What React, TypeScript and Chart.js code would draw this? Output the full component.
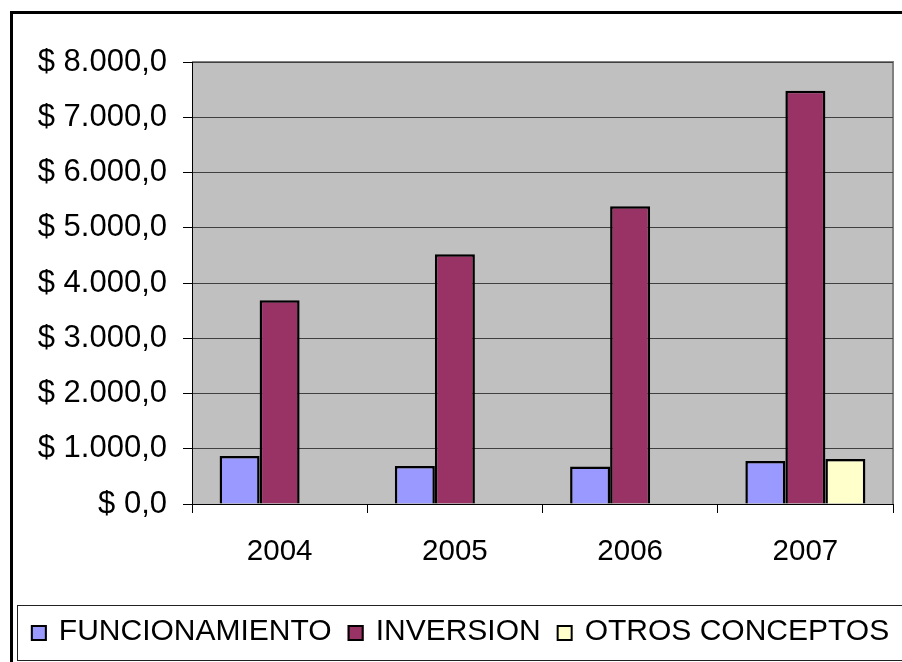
import React, { useEffect, useRef } from 'react';
import { Chart, registerables } from 'chart.js';

Chart.register(...registerables);

const years = ['2004', '2005', '2006', '2007'];
const funcionamiento = [870, 690, 680, 780];
const inversion = [3690, 4520, 5390, 7480];
const otrosConceptos: (number | null)[] = [null, null, null, 815];
const seriesNames = ['FUNCIONAMIENTO', 'INVERSION', 'OTROS CONCEPTOS'];
const seriesColors = ['#9999FF', '#993366', '#FFFFCC'];
const yTickLabels = [
  '$ 0,0',
  '$ 1.000,0',
  '$ 2.000,0',
  '$ 3.000,0',
  '$ 4.000,0',
  '$ 5.000,0',
  '$ 6.000,0',
  '$ 7.000,0',
  '$ 8.000,0',
];

const FONT = "'Liberation Sans', Arial, sans-serif";

const plotBg = {
  id: 'plotBg',
  beforeDraw(chart: any) {
    const { ctx, chartArea: a } = chart;
    ctx.save();
    ctx.fillStyle = '#C0C0C0';
    ctx.fillRect(a.left, a.top, a.right - a.left, a.bottom - a.top);
    ctx.strokeStyle = '#808080';
    ctx.lineWidth = 2;
    ctx.beginPath();
    ctx.moveTo(a.left, a.top);
    ctx.lineTo(a.right, a.top);
    ctx.lineTo(a.right, a.bottom);
    ctx.stroke();
    ctx.restore();
  },
};

// Legend drawn from the chart's own datasets, laid out like the original
const bottomLegend = {
  id: 'bottomLegend',
  afterDraw(chart: any) {
    const { ctx } = chart;
    const ds = chart.data.datasets;
    const box = 16;
    const gap = 12;
    const spacing = 16;
    const centerX = 460;
    const baseline = 640;
    ctx.save();
    ctx.font = `30px ${FONT}`;
    const widths = ds.map((d: any) => ctx.measureText(d.label).width);
    const total =
      widths.reduce((s: number, w: number) => s + w + box + gap, 0) +
      spacing * (ds.length - 1);
    let x = centerX - total / 2;
    ds.forEach((d: any, i: number) => {
      const top = baseline - box + 1;
      ctx.fillStyle = d.backgroundColor;
      ctx.fillRect(x, top, box, box);
      ctx.strokeStyle = '#000000';
      ctx.lineWidth = 2;
      ctx.strokeRect(x + 1, top + 1, box - 2, box - 2);
      x += box + gap;
      ctx.fillStyle = '#000000';
      ctx.textBaseline = 'alphabetic';
      ctx.textAlign = 'left';
      ctx.fillText(d.label, x, baseline);
      x += widths[i] + spacing;
    });
    ctx.restore();
  },
};

export default function App() {
  const ref = useRef<HTMLCanvasElement>(null);

  useEffect(() => {
    if (!ref.current) return;
    const data = [funcionamiento, inversion, otrosConceptos];
    const chart = new Chart(ref.current, {
      type: 'bar',
      data: {
        labels: years,
        datasets: data.map((d, i) => ({
          label: seriesNames[i],
          data: d,
          backgroundColor: seriesColors[i],
          borderColor: '#000000',
          borderWidth: 2.5,
          categoryPercentage: 0.685,
          barPercentage: 1.0,
        })),
      },
      options: {
        responsive: false,
        animation: false,
        layout: { padding: { left: 26, right: 9, top: 62, bottom: 67 } },
        plugins: {
          tooltip: { enabled: false },
          legend: { display: false },
        },
        scales: {
          x: {
            afterFit(scale: any) {
              scale.height = 91;
            },
            grid: {
              offset: true,
              drawOnChartArea: false,
              drawTicks: true,
              tickLength: 9,
              tickColor: '#000000',
            },
            border: { display: true, color: '#000000', width: 1 },
            ticks: {
              font: { size: 29.5, family: FONT },
              color: '#000000',
              padding: 21,
            },
          },
          y: {
            min: 0,
            max: 8000,
            afterFit(scale: any) {
              scale.width = 166;
            },
            grid: {
              color: '#404040',
              lineWidth: 1,
              drawTicks: true,
              tickLength: 9,
              tickColor: '#000000',
            },
            border: { display: true, color: '#000000', width: 1 },
            ticks: {
              stepSize: 1000,
              font: { size: 31, family: FONT },
              color: '#000000',
              padding: 16,
              callback: (_v: any, i: number) => yTickLabels[i],
            },
          },
        },
      },
      plugins: [plotBg, bottomLegend],
    });
    return () => chart.destroy();
  }, []);

  return (
    <div
      style={{
        position: 'fixed',
        left: 0,
        top: 0,
        width: 902,
        height: 662,
        overflow: 'hidden',
        background: '#ffffff',
      }}
    >
      <div
        style={{
          position: 'absolute',
          left: 10,
          top: 11,
          width: 1000,
          height: 800,
          border: '3px solid #000000',
        }}
      />
      <div
        style={{
          position: 'absolute',
          left: 17,
          top: 605,
          width: 1000,
          height: 54,
          border: '1px solid #222222',
        }}
      />
      <canvas
        ref={ref}
        width={902}
        height={662}
        style={{ position: 'absolute', left: 0, top: 0, width: 902, height: 662 }}
      />
    </div>
  );
}
